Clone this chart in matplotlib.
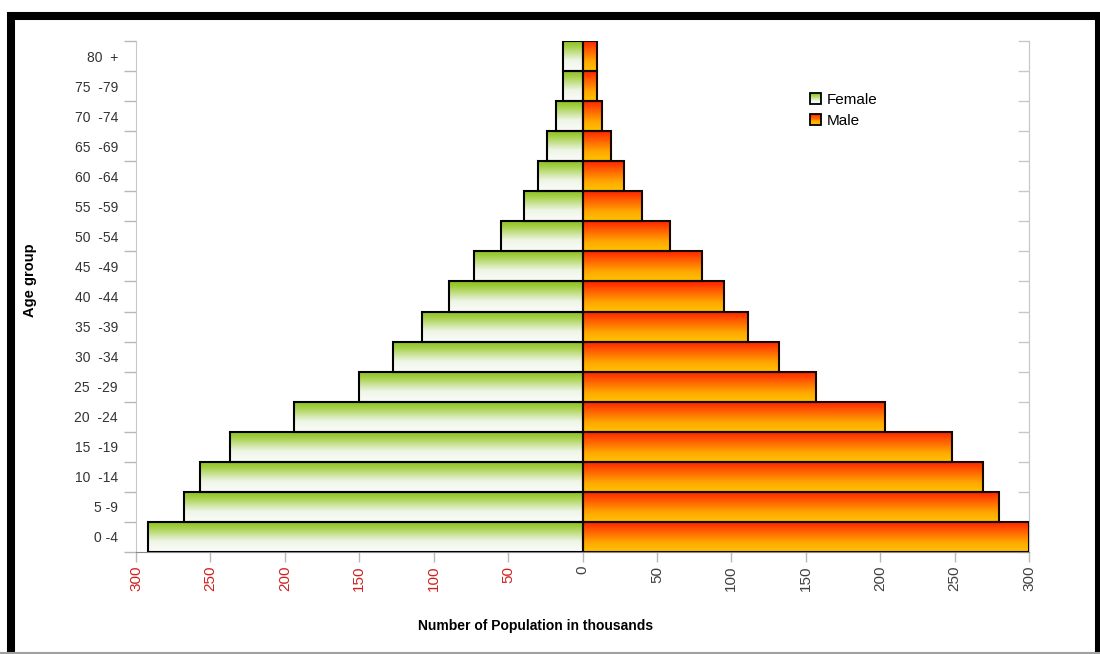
import numpy as np
from matplotlib import pyplot as plt
from matplotlib import patches
from matplotlib.colors import LinearSegmentedColormap
from matplotlib.legend_handler import HandlerBase

plt.rcParams['font.family'] = ['Liberation Sans', 'DejaVu Sans']

# age groups from youngest (bottom) to oldest (top)
age_groups = ['0 -4', '5 -9', '10  -14', '15  -19', '20  -24', '25  -29',
              '30  -34', '35  -39', '40  -44', '45  -49', '50  -54',
              '55  -59', '60  -64', '65  -69', '70  -74', '75  -79', '80  +']
# population in thousands
female = [292, 268, 257, 237, 194, 150, 127, 108, 90, 73, 55, 39, 30, 24, 18, 13, 13]
male = [300, 280, 269, 248, 203, 157, 132, 111, 95, 80, 59, 40, 28, 19, 13, 10, 10]
x_ticks = [-300, -250, -200, -150, -100, -50, 0, 50, 100, 150, 200, 250, 300]

female_cmap = LinearSegmentedColormap.from_list(
    'female', [(0, '#88bd1a'), (0.2, '#a4cf44'), (0.65, '#eef5e6'), (1, '#fbfcfa')])
male_cmap = LinearSegmentedColormap.from_list(
    'male', [(0, '#ff1e00'), (0.3, '#ff5a00'), (0.7, '#ffa800'), (1, '#ffc400')])
grad = np.linspace(0, 1, 256).reshape(-1, 1)


def fill_gradient(ax, bars, cmap):
    for bar in bars:
        b = bar.get_bbox()
        im = ax.imshow(grad, cmap=cmap, aspect='auto', origin='upper',
                       extent=[b.x0, b.x1, b.y0, b.y1], zorder=2,
                       interpolation='bilinear')
        im.set_clip_path(bar)


class GradientHandler(HandlerBase):
    def __init__(self, cmap, n=12):
        super().__init__()
        self.cmap = cmap
        self.n = n

    def create_artists(self, legend, orig_handle, xdescent, ydescent,
                       width, height, fontsize, trans):
        arts = []
        h = height / self.n
        for i in range(self.n):
            c = self.cmap(1 - (i + 0.5) / self.n)
            arts.append(patches.Rectangle((-xdescent, -ydescent + i * h), width, h,
                                          facecolor=c, edgecolor='none', transform=trans))
        arts.append(patches.Rectangle((-xdescent, -ydescent), width, height,
                                      facecolor='none', edgecolor='black', lw=1.3,
                                      transform=trans))
        return arts


fig = plt.figure(figsize=(11, 6.54), dpi=100)
ax = fig.add_axes([136 / 1100, 1 - 552 / 654, (1029 - 136) / 1100, (552 - 41) / 654])

y = np.arange(len(age_groups))
fbars = ax.barh(y, -np.array(female), height=1, facecolor='none',
                edgecolor='black', lw=1.5, zorder=3)
mbars = ax.barh(y, male, height=1, facecolor='none',
                edgecolor='#140800', lw=1.5, zorder=3)
fill_gradient(ax, fbars, female_cmap)
fill_gradient(ax, mbars, male_cmap)

ax.set_xlim(-300, 300)
ax.set_ylim(-0.5, len(age_groups) - 0.5)

# y axis: labels at centres, ticks at group boundaries
ax.set_yticks(y)
ax.set_yticklabels(age_groups, fontsize=10, color='#333333')
ax.set_yticks(np.arange(-0.5, len(age_groups)), minor=True)
ax.tick_params(axis='y', which='major', length=0, pad=13)
ax.tick_params(axis='y', which='minor', length=9, width=1, color='#b8b8b8', direction='out')

ax.set_xticks(x_ticks)
ax.set_xticklabels([str(abs(v)) for v in x_ticks], rotation=90, fontsize=11)
for lab, v in zip(ax.get_xticklabels(), x_ticks):
    lab.set_color('#d02020' if v < 0 else '#404040')
ax.tick_params(axis='x', length=7, width=1, color='#b8b8b8', pad=3)

ax.spines['top'].set_visible(False)
ax.spines['left'].set_color('#c8c8c8')
ax.spines['right'].set_color('#c8c8c8')
ax.spines['bottom'].set_color('#888888')

# right side boundary ticks pointing inward
sec = ax.secondary_yaxis('right')
sec.set_yticks(np.arange(-0.5, len(age_groups)))
sec.set_yticklabels([])
sec.tick_params(length=8, width=1, color='#c8c8c8', direction='in')
sec.spines['right'].set_color('#c8c8c8')

fig.text(30 / 1100, 1 - 280 / 654, 'Age group', rotation=90, fontsize=10.5,
         fontweight='bold', ha='center', va='center')
fig.text(536 / 1100, 1 - 626 / 654, 'Number of Population in thousands',
         fontsize=10, fontweight='bold', ha='center', va='center')

h_f = patches.Rectangle((0, 0), 1, 1)
h_m = patches.Rectangle((0, 0), 1, 1)
fig.legend([h_f, h_m], ['Female', 'Male'], loc='upper left',
           bbox_to_anchor=(810 / 1100, 1 - 93 / 654), frameon=False,
           fontsize=11, handlelength=0.75, handleheight=0.75, handletextpad=0.35,
           labelspacing=0.45, borderpad=0, borderaxespad=0,
           handler_map={h_f: GradientHandler(female_cmap), h_m: GradientHandler(male_cmap)})

# black frame around the chart
fig.patches.append(patches.Rectangle((11 / 1100, -0.05), (1099 - 11) / 1100,
                                     1.05 - 15.5 / 654, transform=fig.transFigure,
                                     fill=False, edgecolor='black', lw=5.8))
fig.add_artist(plt.Line2D([0, 1], [1.5 / 654, 1.5 / 654], transform=fig.transFigure,
                          color='#a0a0a0', lw=1.5))

fig.savefig('out.png', dpi=100)
